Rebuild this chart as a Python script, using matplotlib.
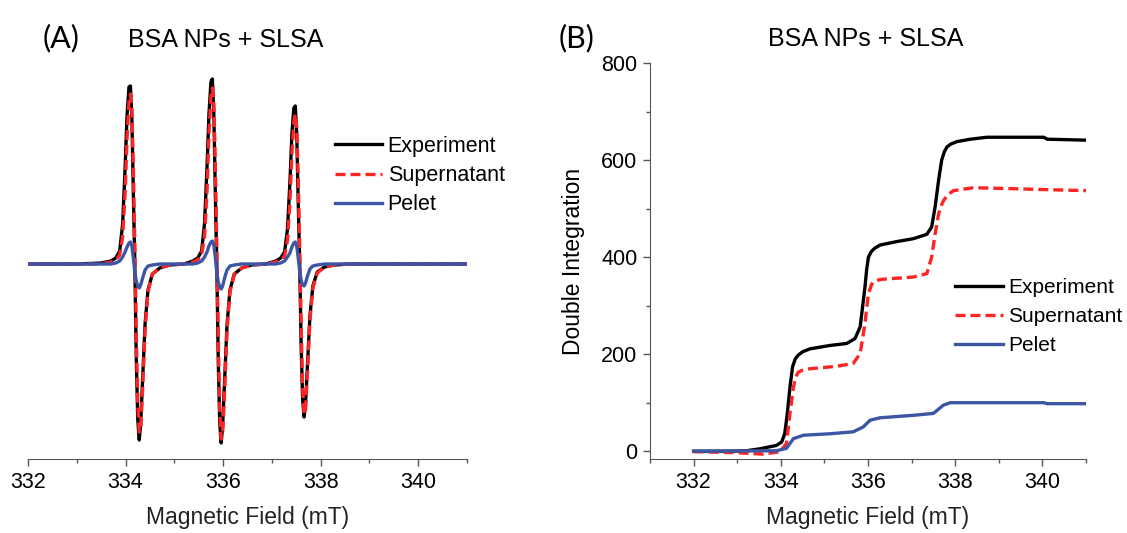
import matplotlib
matplotlib.use("Agg")
import matplotlib.pyplot as plt
from matplotlib.ticker import MultipleLocator

plt.rcParams['font.family'] = ['Liberation Sans', 'DejaVu Sans']

# ---------------- Panel A: EPR spectra ----------------
field_a = [332.00, 333.00, 333.50,
           333.70, 333.80, 333.88, 333.94, 333.99, 334.03, 334.07, 334.10, 334.13, 334.16, 334.19,
           334.22, 334.25, 334.28, 334.31, 334.35, 334.40, 334.46, 334.55, 334.70, 334.90, 335.20,
           335.38, 335.48, 335.56, 335.62, 335.67, 335.71, 335.75, 335.78, 335.81, 335.84, 335.87,
           335.90, 335.93, 335.96, 335.99, 336.03, 336.08, 336.14, 336.23, 336.38, 336.58, 336.88,
           337.08, 337.18, 337.26, 337.32, 337.37, 337.41, 337.45, 337.48, 337.51, 337.54, 337.57,
           337.60, 337.63, 337.66, 337.69, 337.73, 337.78, 337.84, 337.93, 338.08, 338.28, 338.58,
           339.00, 340.00, 341.00]
spec_exp = [0, 0, 1,
            3, 6, 13, 40, 95, 148, 177, 178, 145, 70, 0,
            -95, -155, -176, -160, -115, -60, -26, -10, -4, -1, 0,
            3, 6, 13, 41, 97, 150, 182, 185, 150, 72, 0,
            -95, -158, -179, -162, -117, -61, -26, -10, -4, -1, 0,
            3, 6, 12, 35, 82, 130, 156, 158, 128, 62, 0,
            -82, -135, -153, -140, -100, -52, -22, -8, -3, -1, 0,
            0, 0, 0]
spec_sup = [0, 0, 0,
            2, 4, 9, 27, 70, 125, 162, 170, 155, 95, 20,
            -70, -140, -168, -165, -125, -65, -28, -10, -4, -1, 0,
            2, 4, 9, 28, 72, 130, 168, 176, 160, 98, 20,
            -72, -145, -175, -170, -128, -66, -28, -10, -4, -1, 0,
            2, 4, 8, 24, 62, 110, 142, 150, 137, 85, 17,
            -62, -124, -150, -146, -108, -56, -24, -9, -3, -1, 0,
            0, 0, 0]
spec_pel = [0, 0, 0,
            0, 1, 3, 7, 12, 17, 21, 22, 18, 6, -8,
            -17, -22, -24, -21, -14, -6, -2, -1, 0, 0, 0,
            0, 1, 3, 7, 12, 18, 22, 23, 19, 7, -8,
            -18, -23, -25, -22, -14, -6, -2, -1, 0, 0, 0,
            0, 1, 3, 7, 11, 17, 21, 22, 18, 6, -7,
            -16, -21, -22, -19, -12, -5, -2, -1, 0, 0, 0,
            0, 0, 0]

# ---------------- Panel B: double integration ----------------
field_exp_b = [332.00, 332.80, 333.21, 333.52, 333.90, 334.02, 334.09, 334.15, 334.21, 334.27,
               334.33, 334.40, 334.50, 334.67, 335.13, 335.51, 335.70, 335.82, 335.93, 335.97,
               336.01, 336.08, 336.15, 336.28, 336.66, 337.04, 337.35, 337.46, 337.54, 337.62,
               337.69, 337.75, 337.81, 337.90, 338.04, 338.35, 338.73, 339.34, 340.03, 340.11,
               341.00]
di_exp = [0, 0, 1, 5, 12, 19, 36, 78, 132, 174,
          190, 198, 205, 211, 218, 222, 232, 256, 338, 375,
          400, 412, 418, 425, 432, 438, 447, 462, 504, 559,
          600, 617, 627, 633, 638, 643, 647, 647, 647, 643,
          641]
field_sup_b = [332.00, 333.00, 333.59, 333.98, 334.13, 334.21, 334.29, 334.34, 334.40, 334.50,
               334.67, 335.28, 335.66, 335.82, 335.93, 336.01, 336.08, 336.12, 336.28, 337.04,
               337.35, 337.46, 337.54, 337.62, 337.67, 337.73, 337.82, 337.96, 338.42, 339.34,
               340.11, 341.00]
di_sup = [-1, -3, -6, -1, 16, 78, 132, 152, 163, 167,
          170, 175, 181, 201, 263, 325, 343, 349, 354, 359,
          366, 400, 448, 489, 504, 516, 528, 537, 543, 541,
          539, 537]
field_pel_b = [332.00, 333.90, 334.13, 334.29, 334.52, 335.13, 335.66, 335.89, 336.05, 336.28,
               337.04, 337.50, 337.73, 337.89, 340.03, 340.11, 341.00]
di_pel = [0, 1, 6, 26, 33, 36, 40, 50, 64, 69,
          74, 78, 95, 100, 100, 98, 98]

series_names = ["Experiment", "Supernatant", "Pelet"]
x_ticks = [332, 334, 336, 338, 340]
y_ticks_b = [0, 200, 400, 600, 800]

BLACK = "#000000"
RED = "#ff2424"
BLUE = "#3c55a5"
SPINE = "#555555"
W, H = 1127, 533
LW = 2.4
DASH = (0, (3, 1.5))

fig = plt.figure(figsize=(W / 100, H / 100), dpi=100)

def frac(l, t, r, b):
    return [l / W, 1 - b / H, (r - l) / W, (b - t) / H]

# ---- Panel A ----
axA = fig.add_axes(frac(28, 60, 467, 459))
axA.plot(field_a, spec_exp, color=BLACK, lw=LW, label=series_names[0], zorder=2)
axA.plot(field_a, spec_sup, color=RED, lw=LW, ls=DASH, label=series_names[1], zorder=3)
axA.plot(field_a, spec_pel, color=BLUE, lw=LW, label=series_names[2], zorder=4)
axA.set_xlim(332, 341)
axA.set_ylim(-195, 204)
for s in ["left", "right", "top"]:
    axA.spines[s].set_visible(False)
axA.spines["bottom"].set_color(SPINE)
axA.set_yticks([])
axA.set_xticks(x_ticks)
axA.xaxis.set_minor_locator(MultipleLocator(1))
axA.tick_params(axis="x", which="major", direction="out", length=5, width=1, color=SPINE,
                labelsize=15.5, pad=4)
axA.tick_params(axis="x", which="minor", direction="out", length=3, width=1, color=SPINE)
axA.set_xlabel("Magnetic Field (mT)", fontsize=16.5, labelpad=10, color="#222222")
axA.legend(loc="upper left", bbox_to_anchor=(335 / W, 1 - 136 / H),
           bbox_transform=fig.transFigure, frameon=False, fontsize=15.5,
           handlelength=2.2, handletextpad=0.25, labelspacing=0.38, borderpad=0,
           borderaxespad=0)

# ---- Panel B ----
axB = fig.add_axes(frac(650, 63, 1086, 459))
axB.plot(field_exp_b, di_exp, color=BLACK, lw=LW, label=series_names[0], zorder=2)
axB.plot(field_sup_b, di_sup, color=RED, lw=LW, ls=DASH, label=series_names[1], zorder=3)
axB.plot(field_pel_b, di_pel, color=BLUE, lw=LW, label=series_names[2], zorder=4)
axB.set_xlim(331, 341)
axB.set_ylim(-16, 800)
for s in ["right", "top"]:
    axB.spines[s].set_visible(False)
for s in ["left", "bottom"]:
    axB.spines[s].set_color(SPINE)
axB.set_xticks(x_ticks)
axB.set_yticks(y_ticks_b)
axB.xaxis.set_minor_locator(MultipleLocator(1))
axB.yaxis.set_minor_locator(MultipleLocator(100))
axB.tick_params(which="major", direction="out", length=5, width=1, color=SPINE, labelsize=15.5, pad=4)
axB.tick_params(which="minor", direction="out", length=3, width=1, color=SPINE)
axB.set_xlabel("Magnetic Field (mT)", fontsize=16.5, labelpad=10, color="#222222")
axB.set_ylabel("Double Integration", fontsize=16.5, labelpad=12)
axB.legend(loc="upper left", bbox_to_anchor=(955 / W, 1 - 278 / H),
           bbox_transform=fig.transFigure, frameon=False, fontsize=15,
           handlelength=2.3, handletextpad=0.25, labelspacing=0.48, borderpad=0,
           borderaxespad=0)

# ---- Titles and panel letters ----
fig.text(226 / W, 1 - 40 / H, "BSA NPs + SLSA", ha="center", va="center", fontsize=18)
fig.text(866 / W, 1 - 39 / H, "BSA NPs + SLSA", ha="center", va="center", fontsize=18)
fig.text(61 / W, 1 - 38 / H, "(A)", ha="center", va="center", fontsize=22, family=["Lato", "DejaVu Sans"])
fig.text(577 / W, 1 - 38 / H, "(B)", ha="center", va="center", fontsize=22, family=["Lato", "DejaVu Sans"])

fig.savefig("out.png", dpi=100)
